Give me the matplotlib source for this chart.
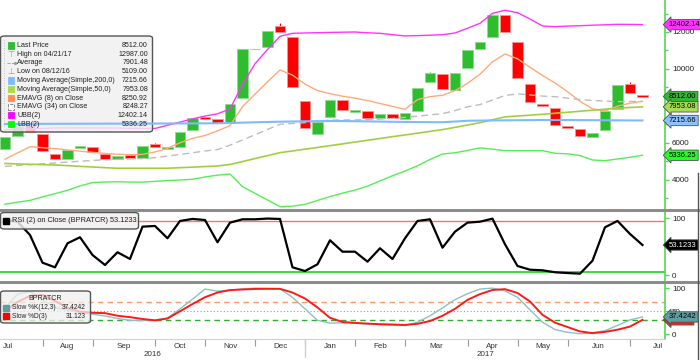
import numpy as np
import matplotlib
matplotlib.use('Agg')
import matplotlib.pyplot as plt
from matplotlib.patches import FancyBboxPatch, Rectangle
from matplotlib.lines import Line2D

plt.rcParams['font.family'] = ['Liberation Sans', 'DejaVu Sans']

# Weekly bars, Jul 2016 - Jul 2017 (BPRATCR)
opens = [5676, 6378, 6973, 6487, 5422, 5119, 5714, 5800, 5422, 5130, 5335, 5206, 5946,
         5692, 5800, 6719, 7405, 7297, 7097, 8449, 11065, 11173, 12324, 11730, 8270, 6470,
         7405, 8324, 7692, 7714, 7368, 7568, 7297, 7746, 9281, 9714, 8865, 10070, 11081,
         11746, 12900, 11476, 9173, 8124, 7892, 6903, 6757, 6341, 6686, 7854, 9189, 8600]
closes = [6341, 6919, 6595, 5568, 5119, 5606, 5838, 5497, 5135, 5290, 5173, 5838, 5800,
          5784, 6595, 7351, 7314, 7097, 8108, 11097, 11097, 12054, 12016, 9011, 6827, 7135,
          8341, 7768, 7768, 7368, 7568, 7368, 7622, 8989, 9768, 8919, 9784, 11027, 11459,
          12920, 11984, 9530, 8232, 7984, 6989, 6811, 6362, 6524, 7730, 9135, 8719, 8512]
highs = [6341, 6919, 6973, 6487, 5422, 5606, 5838, 5800, 5422, 5290, 5335, 5838, 6016,
         5784, 6595, 7351, 7405, 7297, 8108, 11097, 11097, 12054, 12502, 11730, 8270, 7135,
         8341, 8324, 7768, 7714, 7568, 7568, 7622, 8989, 9854, 9714, 9784, 11027, 11459,
         12987, 12900, 11476, 9173, 8124, 7892, 6903, 6757, 6524, 7730, 9135, 9281, 8600]
lows = [5676, 6378, 6595, 5568, 5109, 5119, 5714, 5497, 5135, 5130, 5173, 5206, 5800,
        5692, 5800, 6719, 7314, 7097, 7097, 8449, 11065, 11173, 12016, 9011, 6827, 6470,
        7405, 7768, 7692, 7368, 7368, 7368, 7297, 7746, 9281, 8919, 8865, 10070, 11081,
        11746, 11984, 9530, 8232, 7984, 6989, 6811, 6362, 6341, 6686, 7854, 8719, 8512]

ma200 = [7028, 7030, 7032, 7034, 7036, 7038, 7040, 7042, 7044, 7046, 7048, 7050, 7052,
         7054, 7056, 7058, 7061, 7065, 7082, 7100, 7118, 7135, 7150, 7162, 7172, 7180,
         7188, 7185, 7176, 7166, 7156, 7146, 7138, 7130, 7124, 7120, 7160, 7200, 7210,
         7218, 7224, 7230, 7236, 7240, 7243, 7240, 7236, 7232, 7228, 7224, 7220, 7216]
ma50 = [4892, 4865, 4849, 4827, 4811, 4773, 4735, 4703, 4665, 4633, 4633, 4633, 4633,
        4633, 4665, 4692, 4724, 4757, 4838, 4995, 5157, 5314, 5476, 5568, 5665, 5757,
        5854, 5951, 6049, 6146, 6243, 6341, 6433, 6530, 6627, 6724, 6843, 6973, 7097,
        7254, 7411, 7459, 7503, 7551, 7605, 7659, 7714, 7773, 7827, 7881, 7919, 7953]
ema8 = [5125, 5460, 5800, 5746, 5697, 5627, 5557, 5492, 5433, 5389, 5362, 5384, 5514,
        5708, 6011, 6249, 6405, 6654, 6941, 7962, 8638, 9308, 9946, 9670, 9184, 8832,
        8665, 8530, 8427, 8292, 8135, 7978, 7822, 8341, 8503, 8578, 8832, 9222, 9719,
        10389, 10811, 10551, 10097, 9649, 9243, 8778, 8254, 7843, 7730, 7990, 8150, 8251]
ema34 = [4735, 4784, 4827, 4876, 4919, 4968, 5011, 5054, 5092, 5114, 5135, 5157, 5206,
         5292, 5378, 5470, 5568, 5643, 5881, 6162, 6443, 6730, 7011, 7054, 7097, 7173,
         7232, 7243, 7243, 7259, 7292, 7324, 7384, 7449, 7519, 7584, 7751, 7957, 8076,
         8324, 8568, 8654, 8595, 8535, 8503, 8422, 8346, 8297, 8265, 8232, 8249, 8248]
ubb = [6714, 6741, 6762, 6784, 6811, 6811, 6811, 6811, 6811, 6806, 6795, 6790, 6784,
       6957, 7130, 7303, 7454, 7578, 7838, 9162, 10281, 11049, 11767, 11929, 11946, 11962,
       11978, 11989, 12000, 11957, 11929, 11854, 11789, 11805, 11827, 11854, 11946, 12200,
       12470, 13011, 13173, 13043, 12703, 12324, 12286, 12319, 12340, 12367, 12389, 12416,
       12410, 12402]
lbb = [2692, 2795, 2897, 3087, 3254, 3443, 3676, 3860, 3887, 3903, 3887, 3881, 3924,
       3968, 4000, 4038, 4162, 4259, 4324, 3638, 3276, 2919, 2557, 2584, 2681, 2892,
       3103, 3286, 3454, 3665, 3951, 4227, 4481, 4768, 5108, 5406, 5470, 5595, 5735,
       5665, 5584, 5584, 5584, 5584, 5443, 5411, 5319, 5081, 5043, 5135, 5227, 5336]

rsi = [97, 94, 70.7, 22.1, 14, 56.1, 66.7, 35.6, 18.1, 40.4, 28.6, 85.3, 86.5, 64.9,
       95.3, 98.8, 97, 57.9, 92.3, 98.2, 98.2, 99.5, 98.8, 14, 7.5, 19.3, 61.4, 41.4,
       41.4, 23.9, 47.4, 28.6, 64.9, 95.3, 98.2, 48.4, 76.5, 92.3, 94, 99.3, 54.4, 16.3,
       9.8, 8.8, 5.3, 4, 2.8, 25.6, 84.2, 95.3, 72.5, 53.12]
slow_k = [57, 87, 92.6, 74.5, 58, 52, 47, 43.5, 39.5, 34, 30, 29.6, 30.5, 35, 55, 76,
          98, 93.5, 95.5, 98.5, 100, 99.5, 98.5, 80, 55, 30, 24, 24.5, 24, 22, 20.5, 19.5,
          18.7, 26, 40, 57, 75, 88, 98, 100, 94, 80, 53, 26, 10, 4, 1, 3, 7.5, 19, 31, 37.42]
slow_d = [50, 70, 83, 85.4, 72, 57, 49, 46.5, 45.7, 40, 37, 33, 30, 34, 49.7, 65.5, 80.3,
          90.5, 95.8, 97, 98.2, 98.5, 98.5, 90.5, 77.5, 58, 35.5, 26.5, 24.5, 23, 21.7, 21,
          20, 22.5, 28.5, 40, 55, 74.5, 87, 96, 97.8, 89.5, 71, 42, 25, 15.5, 6, 2.2, 5,
          9.7, 16.5, 31.12]

# x axis: week index of the first bar of each month
month_starts = [-2.5, 3, 7, 12, 16, 20, 24, 28, 32, 37, 41, 45, 50, 54.5]
month_names = ['Jul', 'Aug', 'Sep', 'Oct', 'Nov', 'Dec', 'Jan', 'Feb', 'Mar', 'Apr',
               'May', 'Jun', 'Jul']
year_names = ['2016', '2017']
year_pos = [11.8, 38.4]
year_break = 24

legend_labels = ['Last Price', 'High on 04/21/17', 'Average', 'Low on 08/12/16',
                 'Moving Average(Simple,200,0)', 'Moving Average(Simple,50,0)',
                 'EMAVG (8) on Close', 'EMAVG (34) on Close', 'UBB(2)', 'LBB(2)']
legend_values = ['8512.00', '12987.00', '7901.48', '5109.00', '7215.66', '7953.08',
                 '8250.92', '8248.27', '12402.14', '5336.25']

weeks = np.arange(len(closes))

W, H = 700, 360
FS = 5.1
fig = plt.figure(figsize=(7, 3.6), dpi=100)
fig.patch.set_facecolor('white')


def frame(top, bottom, left=0, right=665):
    return [left / W, 1 - bottom / H, (right - left) / W, (bottom - top) / H]


def px(x, y):
    return (x / W, 1 - y / H)


ax = fig.add_axes(frame(0, 209))
ax_rsi = fig.add_axes(frame(212, 281), sharex=ax)
ax_st = fig.add_axes(frame(284, 339), sharex=ax)

GREEN_AX = '#55d655'

for a in (ax, ax_rsi, ax_st):
    a.set_facecolor('white')
    for s in ('top', 'left', 'bottom'):
        a.spines[s].set_visible(False)
    a.spines['right'].set_color(GREEN_AX)
    a.spines['right'].set_linewidth(1.2)
    a.yaxis.tick_right()
    a.tick_params(axis='y', which='both', color=GREEN_AX, labelcolor='#222222',
                  labelsize=5.8, length=3, width=1, pad=2)
    a.tick_params(axis='y', which='minor', length=2)
    a.tick_params(axis='x', bottom=False, labelbottom=False)

# ---- price panel ----
up = [c >= o for o, c in zip(opens, closes)]
body_col = ['#2fbd2f' if u else '#ff0000' for u in up]
edge_col = ['#8edc8e' if u else '#ff9090' for u in up]
ax.vlines(weeks, lows, highs, colors=body_col, linewidth=0.8, zorder=2)
ax.bar(weeks, np.array(closes) - np.array(opens), bottom=opens, width=0.82,
       color=body_col, edgecolor=edge_col, linewidth=0.7, zorder=3)

ax.plot(weeks, ubb, color='#ff33ff', lw=1.0, zorder=4)
ax.plot(weeks, lbb, color='#55ee55', lw=1.0, zorder=4)
ax.plot(weeks, ema8, color='#ffaa7a', lw=1.0, zorder=4)
ax.plot(weeks, ema34, color='#bdbdbd', lw=1.0, ls=(0, (5, 3)), zorder=4)
ax.plot(weeks, ma50, color='#a0d040', lw=1.2, zorder=4)
ax.plot(weeks, ma200, color='#7fbaff', lw=1.5, zorder=7)

ax.set_ylim(2430, 13730)
ax.set_yticks([4000, 6000, 8000, 10000, 12000])
ax.set_yticks(np.arange(3000, 14000, 1000), minor=True)
ax.set_xlim(-0.4, 52.8)

# ---- RSI panel ----
ax_rsi.axhline(95, color='#ff7070', lw=1.0)
ax_rsi.axhline(5, color='#3ddc3d', lw=1.4)
ax_rsi.plot(weeks, rsi, color='black', lw=1.6, zorder=4)
ax_rsi.set_ylim(-10, 111)
ax_rsi.set_yticks([0, 50, 100])

# ---- stochastic panel ----
ax_st.axhline(70, color='#ff9a6a', lw=1.0, ls=(0, (4, 3)))
ax_st.axhline(50, color='#7fa8a8', lw=0.8, ls=(0, (1, 2)))
ax_st.axhline(30, color='#33aa33', lw=1.0, ls=(0, (4, 3)))
ax_st.plot(weeks, slow_k, color='#8fc0c0', lw=1.0, zorder=4)
ax_st.plot(weeks, slow_d, color='#ff1a1a', lw=1.4, zorder=5)
ax_st.set_ylim(-10.5, 109)
ax_st.set_yticks([0, 50, 100])

# x axis ticks / month labels
ax_st.spines['bottom'].set_visible(True)
ax_st.spines['bottom'].set_color('#d0d0d0')
ax_st.spines['bottom'].set_linewidth(0.8)
mids = [(a + b) / 2 for a, b in zip(month_starts[:-1], month_starts[1:])]
ax_st.set_xticks(month_starts[1:-1], labels=[''] * (len(month_starts) - 2))
ax_st.set_xticks(mids, labels=month_names, minor=True)
ax_st.tick_params(axis='x', which='major', bottom=True, length=5, color='#999999', width=0.8)
ax_st.tick_params(axis='x', which='minor', bottom=True, labelbottom=True, length=0,
                  labelsize=5.8, pad=3, labelcolor='#333333')
ax_st.set_xlim(-0.4, 52.8)
for name, pos in zip(year_names, year_pos):
    ax_st.annotate(name, xy=(pos, 0), xycoords=ax_st.get_xaxis_transform(),
                   xytext=(0, -11), textcoords='offset points', ha='center', va='center',
                   fontsize=5.8, color='#333333', annotation_clip=False)
ax_st.add_line(Line2D([year_break, year_break], [0, -0.33], transform=ax_st.get_xaxis_transform(),
                      color='#cfcfcf', lw=1.0, clip_on=False))

# panel separators and right edge
for ytop in (209, 281):
    fig.add_artist(Rectangle(px(0, ytop + 3), 1, 3 / H, transform=fig.transFigure,
                             facecolor='#8c8c8c', edgecolor='none'))
fig.add_artist(Line2D([697.5 / W, 697.5 / W], [0, 1 - 173 / H], transform=fig.transFigure,
                      color='#555555', lw=1.0))


# ---- value tags on the right ----
def tag(a, y, text, fc, tc='black', z=10):
    a.annotate(text, xy=(1, y), xycoords=a.get_yaxis_transform(), xytext=(2.8, 0),
               textcoords='offset points', ha='left', va='center', fontsize=5.5, color=tc,
               bbox=dict(boxstyle='larrow,pad=0.22', fc=fc, ec='#505050', lw=0.6),
               annotation_clip=False, zorder=z)


tag(ax, 12402.14, '12402.14', '#ff33ff')
tag(ax, 8512.00, '8512.00', '#33b433', z=11)
tag(ax, 7953.08, '7953.08', '#a8dc55', z=12)
tag(ax, 7215.66, '7215.66', '#8cc0ff')
tag(ax, 5336.25, '5336.25', '#22ff22')
tag(ax_rsi, 53.1233, '53.1233', '#000000', tc='white')
tag(ax_st, 31.123, '31.123', '#ff1a1a', z=10)
tag(ax_st, 37.4242, '37.4242', '#5f9ea0', z=11)

# ---- legends ----
leg = FancyBboxPatch(px(0.5, 132), 152 / W, 96 / H, boxstyle='round,pad=0,rounding_size=0.006',
                     transform=fig.transFigure, facecolor=(0.94, 0.94, 0.94, 0.82),
                     edgecolor='#555555', lw=1.0, zorder=6)
ax.add_artist(leg)
icons = ['sq', 'T', 'avg', 'L', 'sq', 'sq', 'sq', 'open', 'sq', 'sq']
icon_cols = ['#33bb33', '#999999', '#999999', '#999999', '#7fbaff', '#a8dc44',
             '#ff8c55', '#ffffff', '#ff00ff', '#00ff00']
for i, (lab, val, ic, col) in enumerate(zip(legend_labels, legend_values, icons, icon_cols)):
    yy = 45.5 + i * 8.75
    if ic in ('sq', 'open'):
        ax.add_artist(Rectangle(px(8, yy + 3), 6 / W, 6 / H, transform=fig.transFigure,
                                facecolor=col, edgecolor='#777777' if ic == 'open' else col,
                                lw=0.6, ls='--' if ic == 'open' else '-', zorder=8))
    elif ic == 'T':
        ax.text(*px(11, yy), '\u22a4', transform=fig.transFigure, fontsize=6,
                family='DejaVu Sans', color=col, ha='center', va='center', zorder=8)
    elif ic == 'L':
        ax.text(*px(11, yy), '\u22a5', transform=fig.transFigure, fontsize=6,
                family='DejaVu Sans', color=col, ha='center', va='center', zorder=8)
    else:
        ax.add_artist(Line2D([7 / W, 15 / W], [1 - yy / H] * 2, transform=fig.transFigure,
                             color=col, lw=0.6, ls='--', marker='.', markersize=2.5,
                             markevery=[1], zorder=8))
    ax.text(*px(17, yy), lab, transform=fig.transFigure, fontsize=FS,
            color='#222222', ha='left', va='center', zorder=9)
    ax.text(*px(148, yy), val, transform=fig.transFigure, fontsize=FS,
            color='#222222', ha='right', va='center', zorder=9)
ax.add_artist(Line2D([4 / W, 4 / W], [1 - 40 / H, 1 - 126 / H], transform=fig.transFigure,
                     color='#b0b0b0', lw=0.6, ls=(0, (1, 2)), zorder=8))

# RSI legend
ax_rsi.add_artist(FancyBboxPatch(px(0.5, 229), 138 / W, 16.5 / H,
                                 boxstyle='round,pad=0,rounding_size=0.006',
                                 transform=fig.transFigure,
                                 facecolor=(0.94, 0.94, 0.94, 0.85), edgecolor='#555555',
                                 lw=1.0, zorder=6))
ax_rsi.add_artist(Rectangle(px(3, 224), 6 / W, 6 / H, transform=fig.transFigure,
                            facecolor='black', edgecolor='black', zorder=8))
ax_rsi.text(*px(12, 221), 'RSI (2) on Close (BPRATCR) 53.1233', transform=fig.transFigure,
            fontsize=FS + 0.2, color='#222222', ha='left', va='center', zorder=9)

# Stochastic legend
ax_st.add_artist(FancyBboxPatch(px(0.5, 323), 90 / W, 32 / H,
                                boxstyle='round,pad=0,rounding_size=0.006',
                                transform=fig.transFigure,
                                facecolor=(0.94, 0.94, 0.94, 0.75), edgecolor='#555555',
                                lw=1.0, zorder=6))
ax_st.text(*px(45, 299), 'BPRATCR', transform=fig.transFigure, fontsize=FS,
           color='#222222', ha='center', va='center', zorder=9)
for yy, lab, val, col in ((307.5, 'Slow %K(12,3)', '37.4242', '#5f9ea0'),
                          (316.3, 'Slow %D(3)', '31.123', '#ff0000')):
    ax_st.add_artist(Rectangle(px(3, yy + 3), 6 / W, 6 / H, transform=fig.transFigure,
                               facecolor=col, edgecolor=col, zorder=8))
    ax_st.text(*px(12, yy), lab, transform=fig.transFigure, fontsize=FS - 0.3,
               color='#222222', ha='left', va='center', zorder=9)
    ax_st.text(*px(86, yy), val, transform=fig.transFigure, fontsize=FS - 0.3,
               color='#222222', ha='right', va='center', zorder=9)

fig.savefig('out.png', dpi=100, facecolor='white')
